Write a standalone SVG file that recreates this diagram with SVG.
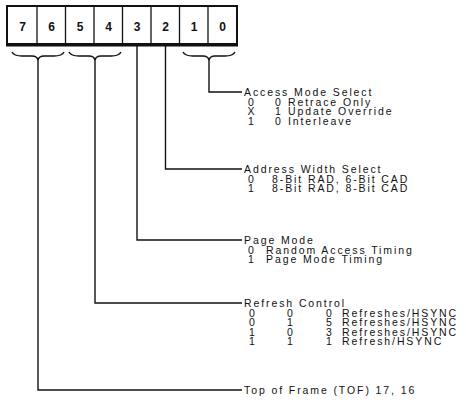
<svg xmlns="http://www.w3.org/2000/svg" width="466" height="411" viewBox="0 0 466 411">
<style>
text{font-family:"Liberation Sans",Arial,sans-serif;font-size:10.5px;letter-spacing:1.9px;fill:#111}
.d{font-size:12px;font-weight:bold;letter-spacing:0;text-anchor:middle}
.c{text-anchor:middle;letter-spacing:0}
.ln{fill:none;stroke:#111;stroke-width:1.4}
.box{fill:#fff;stroke:#111;stroke-width:2}
.cell{stroke:#111;stroke-width:1.3}
</style>
<rect width="466" height="411" fill="#fff"/>
<g id="register">
<rect class="box" x="7" y="6" width="230" height="38"/>
<line x1="6" y1="45" x2="238" y2="45" stroke="#111" stroke-width="3"/>
<line class="cell" x1="37" y1="6" x2="37" y2="44"/>
<line class="cell" x1="65.5" y1="6" x2="65.5" y2="44"/>
<line class="cell" x1="94" y1="6" x2="94" y2="44"/>
<line class="cell" x1="122.5" y1="6" x2="122.5" y2="44"/>
<line class="cell" x1="151" y1="6" x2="151" y2="44"/>
<line class="cell" x1="179.5" y1="6" x2="179.5" y2="44"/>
<line class="cell" x1="208" y1="6" x2="208" y2="44"/>
<text class="d" x="22.5" y="31">7</text>
<text class="d" x="51.5" y="31">6</text>
<text class="d" x="80" y="31">5</text>
<text class="d" x="108.5" y="31">4</text>
<text class="d" x="137" y="31">3</text>
<text class="d" x="165.5" y="31">2</text>
<text class="d" x="194" y="31">1</text>
<text class="d" x="222.5" y="31">0</text>
</g>
<g id="connectors">
<path class="ln" d="M12,52 Q14,56 22,56 L32,56 Q37,56 38,60 Q39,56 44,56 L54,56 Q62,56 64,52"/>
<path class="ln" d="M69,52 Q71,56 79,56 L89,56 Q94,56 95,60 Q96,56 101,56 L111,56 Q119,56 121,52"/>
<path class="ln" d="M183,52 Q185,56 193,56 L203,56 Q208,56 209,60 Q210,56 215,56 L225,56 Q233,56 235,52"/>
<polyline class="ln" points="209,60 209,92 242,92"/>
<polyline class="ln" points="165.5,46 165.5,169 242,169"/>
<polyline class="ln" points="137,46 137,240 242,240"/>
<polyline class="ln" points="95,60 95,303 242,303"/>
<polyline class="ln" points="38,60 38,390 242,390"/>
</g>
<g id="access-mode">
<text x="244" y="96">Access Mode Select</text>
<text class="c" x="251" y="105.5">0</text><text class="c" x="278" y="105.5">0</text><text x="288" y="105.5">Retrace Only</text>
<text class="c" x="251" y="115">X</text><text class="c" x="278" y="115">1</text><text x="288" y="115">Update Override</text>
<text class="c" x="251" y="124.5">1</text><text class="c" x="278" y="124.5">0</text><text x="288" y="124.5">Interleave</text>
</g>
<g id="address-width">
<text x="244" y="173">Address Width Select</text>
<text class="c" x="251" y="182.5">0</text><text x="272" y="182.5">8-Bit RAD, 6-Bit CAD</text>
<text class="c" x="251" y="192">1</text><text x="272" y="192">8-Bit RAD, 8-Bit CAD</text>
</g>
<g id="page-mode">
<text x="244" y="244">Page Mode</text>
<text class="c" x="251" y="253.5">0</text><text x="266" y="253.5">Random Access Timing</text>
<text class="c" x="251" y="263">1</text><text x="266" y="263">Page Mode Timing</text>
</g>
<g id="refresh-control">
<text x="244" y="307">Refresh Control</text>
<text class="c" x="252" y="316.5">0</text><text class="c" x="290" y="316.5">0</text><text class="c" x="329" y="316.5">0</text><text x="342" y="316.5">Refreshes/HSYNC</text>
<text class="c" x="252" y="326">0</text><text class="c" x="290" y="326">1</text><text class="c" x="329" y="326">5</text><text x="342" y="326">Refreshes/HSYNC</text>
<text class="c" x="252" y="335.5">1</text><text class="c" x="290" y="335.5">0</text><text class="c" x="329" y="335.5">3</text><text x="342" y="335.5">Refreshes/HSYNC</text>
<text class="c" x="252" y="345">1</text><text class="c" x="290" y="345">1</text><text class="c" x="329" y="345">1</text><text x="342" y="345">Refresh/HSYNC</text>
</g>
<g id="top-of-frame">
<text x="244" y="394">Top of Frame (TOF) 17, 16</text>
</g>
</svg>
